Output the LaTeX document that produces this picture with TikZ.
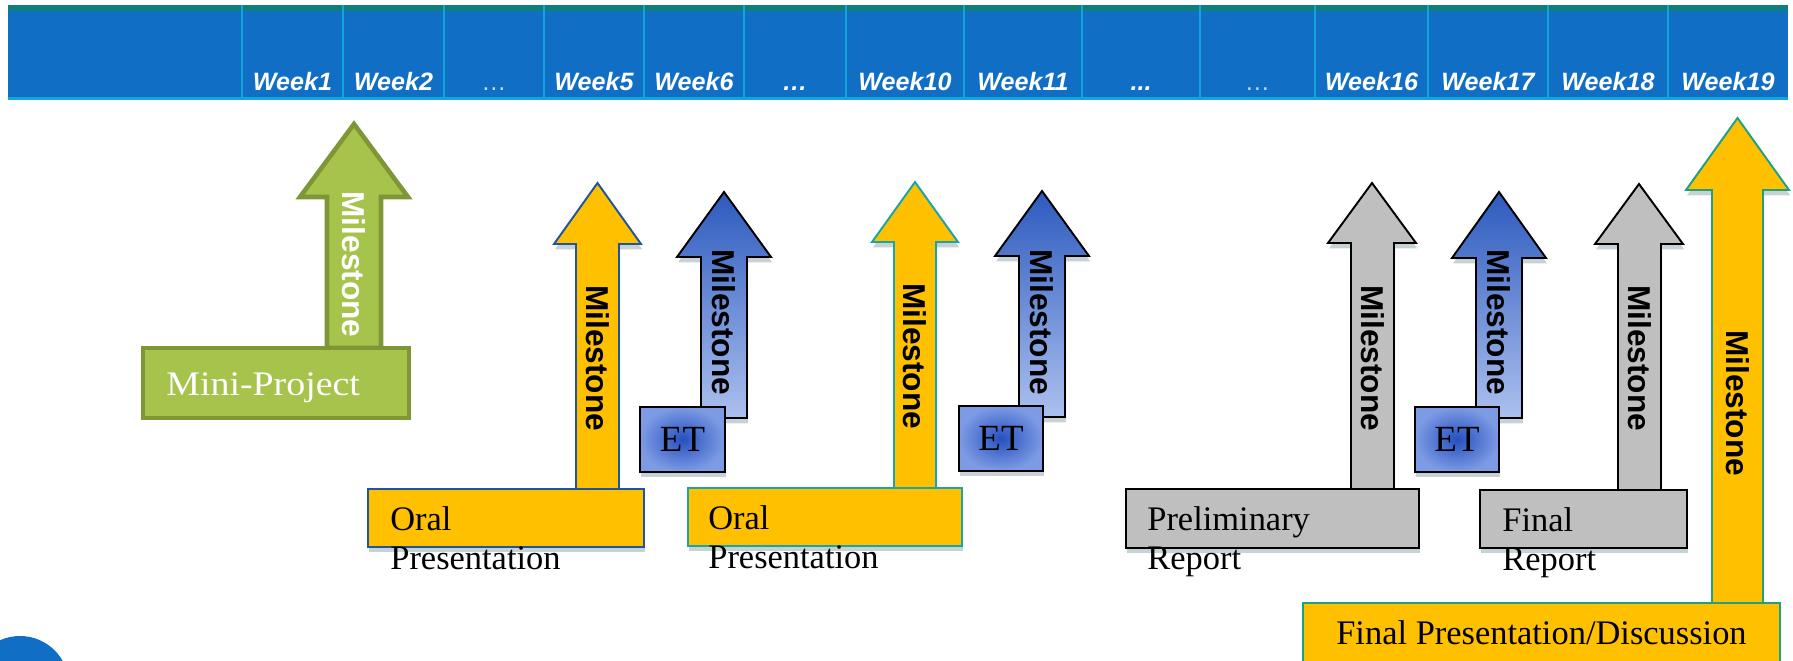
\documentclass[tikz,border=0pt]{standalone}
\usepackage{fontspec}
\setmainfont{Liberation Serif}
\setsansfont{Liberation Sans}
\usepackage{xcolor}
\usepackage{tikz}
\usetikzlibrary{shadows}

\definecolor{barblue}{RGB}{16,110,196}
\definecolor{barteal}{RGB}{14,127,122}
\definecolor{barline}{RGB}{18,165,219}
\definecolor{greenfill}{RGB}{166,195,76}
\definecolor{greenline}{RGB}{127,150,55}
\definecolor{yellowfill}{RGB}{255,192,0}
\definecolor{navyline}{RGB}{31,85,160}
\definecolor{tealline}{RGB}{23,165,170}
\definecolor{sealine}{RGB}{30,160,130}
\definecolor{grayfill}{RGB}{191,191,191}
\definecolor{bluetop}{RGB}{45,90,190}
\definecolor{bluebottom}{RGB}{172,192,238}
\definecolor{etdark}{RGB}{38,80,190}
\definecolor{etlight}{RGB}{125,155,228}
\definecolor{shadowc}{RGB}{70,105,115}

\tikzset{
	softshadow/.style={drop shadow={shadow xshift=0.6pt, shadow yshift=-3pt, opacity=0.3, fill=shadowc}},
	week/.style={text=white, anchor=base, font=\sffamily\bfseries\itshape\fontsize{14.3}{16}\selectfont},
	thindots/.style={text=white!75!barblue, anchor=base, font=\sffamily\fontsize{14.3}{16}\selectfont},
	mile/.style={rotate=-90, inner sep=0pt, font=\sffamily\bfseries\fontsize{18}{20}\selectfont},
	boxtext/.style={inner sep=0pt, align=left, font=\fontsize{19.6}{22.2}\selectfont},
	ettext/.style={inner sep=0pt, font=\fontsize{21}{24}\selectfont},
	msgreen/.style={fill=greenfill, draw=greenline, line width=2.6pt, line join=miter},
	msyellow/.style={fill=yellowfill, line width=1.1pt, softshadow},
	msblue/.style={top color=bluetop, bottom color=bluebottom, draw=black, line width=1.1pt, softshadow},
	msgray/.style={fill=grayfill, draw=black, line width=1.1pt, softshadow},
	etbox/.style={inner color=etdark, outer color=etlight, draw=black, line width=1.1pt, softshadow}
}

\begin{document}
\begin{tikzpicture}[x=0.02cm, y=-0.02cm]
	\useasboundingbox (0,0) rectangle (1793,660);
	\clip (0,0) rectangle (1793,660);

	% week bar
	\fill[barblue] (8,5) rectangle (1788,99);
	\fill[barteal] (8,5) rectangle (1788,11);
	\draw[barline, line width=1.4pt] (8,98.5) -- (1788,98.5);
	\foreach \x in {242,343,444,544,644,744,846,964,1082,1200,1315,1428,1548,1668}{
		\draw[barline, line width=1.1pt] (\x,5) -- (\x,98);
	}
	\foreach \a/\b/\n in {242/343/1, 343/444/2, 544/644/5, 644/744/6, 846/964/10, 964/1082/11, 1315/1428/16, 1428/1548/17, 1548/1668/18, 1668/1788/19}{
		\node[week] (week\n) at ({(\a+\b)/2},90) {Week\n};
	}
	\node[thindots] (gapA) at (494,90) {…};
	\node[week] (gapB) at (795,90) {…};
	\node[week] (gapC) at (1141,90) {...};
	\node[thindots] (gapD) at (1257.5,90) {…};

	% mini-project
	\filldraw[msgreen] (327,348) -- (327,197) -- (300,197) -- (354,124) -- (408,197) -- (381,197) -- (381,348) -- cycle;
	\filldraw[msgreen] (143,348) rectangle (409,418);
	\node[mile, text=white] (msmini) at (354,264.5) {Milestone};
	\node[boxtext, text=white, anchor=base west, xscale=1.1, transform shape] (mini) at (166,395) {Mini-Project};

	% oral presentations
	\filldraw[msyellow, draw=navyline] (576,489) -- (576,244) -- (554,244) -- (597.5,183) -- (641,244) -- (619,244) -- (619,489) -- cycle;
	\filldraw[msyellow, draw=navyline] (368,489) rectangle (644,547);
	\node[mile] (msoralA) at (597.5,358) {Milestone};
	\node[boxtext, anchor=north west] (oralA) at (390,506.5) {Oral\\Presentation};

	\filldraw[msyellow, draw=tealline] (894,488) -- (894,242) -- (872,242) -- (915,182) -- (958,242) -- (936,242) -- (936,488) -- cycle;
	\filldraw[msyellow, draw=tealline] (688,488) rectangle (962,546);
	\node[mile] (msoralB) at (915,356) {Milestone};
	\node[boxtext, anchor=north west] (oralB) at (708,505.5) {Oral\\Presentation};

	% ET milestones
	\filldraw[msblue] (701,418) -- (701,257) -- (677,257) -- (724,192) -- (771,257) -- (747,257) -- (747,418) -- cycle;
	\filldraw[etbox] (640,407) rectangle (725,472);
	\node[mile] (msetA) at (724,322) {Milestone};
	\node[ettext] (etA) at (682.5,439.5) {ET};

	\filldraw[msblue] (1019,417) -- (1019,256) -- (995,256) -- (1042,191) -- (1089,256) -- (1065,256) -- (1065,417) -- cycle;
	\filldraw[etbox] (959,406) rectangle (1043,471);
	\node[mile] (msetB) at (1042,322) {Milestone};
	\node[ettext] (etB) at (1001,438.5) {ET};

	\filldraw[msblue] (1476,418) -- (1476,258) -- (1452,258) -- (1499,192) -- (1546,258) -- (1522,258) -- (1522,418) -- cycle;
	\filldraw[etbox] (1415,407) rectangle (1499,472);
	\node[mile] (msetC) at (1499,322) {Milestone};
	\node[ettext] (etC) at (1457,439.5) {ET};

	% reports
	\filldraw[msgray] (1351,489) -- (1351,243) -- (1328,243) -- (1372,183) -- (1416,243) -- (1394,243) -- (1394,489) -- cycle;
	\filldraw[msgray] (1126,489) rectangle (1419,548);
	\node[mile] (msprelim) at (1372.5,358) {Milestone};
	\node[boxtext, anchor=north west] (prelim) at (1147,506.5) {Preliminary\\Report};

	\filldraw[msgray] (1618,490) -- (1618,244) -- (1595,244) -- (1639,184) -- (1683,244) -- (1661,244) -- (1661,490) -- cycle;
	\filldraw[msgray] (1480,490) rectangle (1687,548);
	\node[mile] (msfinal) at (1639.5,358) {Milestone};
	\node[boxtext, anchor=north west] (final) at (1502,507) {Final\\Report};

	% final presentation
	\filldraw[msyellow, draw=sealine] (1712,603) -- (1712,190) -- (1686,190) -- (1737.5,118) -- (1789,190) -- (1763,190) -- (1763,603) -- cycle;
	\filldraw[msyellow, draw=sealine] (1303,603) rectangle (1780,668);
	\node[mile] (msdisc) at (1737.5,403) {Milestone};
	\node[boxtext, anchor=base] (disc) at (1541.5,644) {Final Presentation/Discussion};

	% corner disc
	\fill[barblue] (20,685) circle (49);
\end{tikzpicture}
\end{document}
